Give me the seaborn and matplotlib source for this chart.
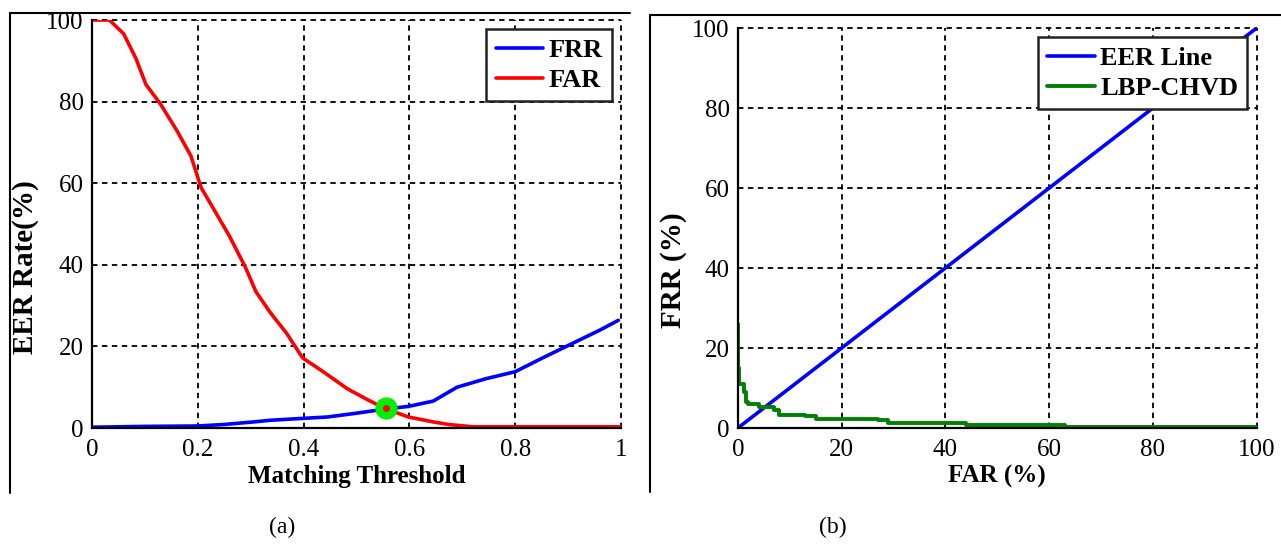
import numpy as np
import pandas as pd
import seaborn as sns
import matplotlib.pyplot as plt
from matplotlib.lines import Line2D

# (a) FAR / FRR vs matching threshold
far_thr = [0.0, 0.033, 0.06, 0.083, 0.102, 0.129, 0.16, 0.187, 0.206, 0.229, 0.26, 0.29,
           0.31, 0.337, 0.368, 0.398, 0.437, 0.483, 0.52, 0.552, 0.598, 0.645, 0.675, 0.72, 1.0]
far_val = [100, 100, 96.6, 90.6, 84.2, 79.5, 73, 66.7, 59, 53.9, 47, 39.4,
           33.4, 28.3, 23.2, 17.2, 13.8, 9.6, 7, 4.9, 2.7, 1.5, 0.85, 0.3, 0.3]
frr_thr = [0.0, 0.1, 0.2, 0.248, 0.306, 0.337, 0.39, 0.445, 0.498, 0.552, 0.598, 0.645,
           0.69, 0.745, 0.8, 0.852, 0.906, 0.96, 0.995]
frr_val = [0.2, 0.4, 0.5, 0.85, 1.5, 1.9, 2.3, 2.7, 3.6, 4.6, 5.3, 6.6,
           10, 12.1, 13.8, 17.2, 20.6, 24, 26.4]
eer_point = (0.555, 4.8)

# (b) DET-style plot
eer_x = [0, 100]
eer_y = [0, 100]
lbp_far = [0, 0, 0.3, 1.2, 1.5, 2, 4, 7, 8, 13, 15, 27, 29, 44, 63, 100]
lbp_frr = [26, 15, 11, 9, 6.5, 6, 5.3, 4.5, 3.3, 3, 2.3, 2.1, 1.2, 0.8, 0.2, 0.2]

sns.set_style("white")
plt.rcParams['font.family'] = ['Liberation Serif', 'DejaVu Serif']
plt.rcParams['text.color'] = 'black'
plt.rcParams['axes.labelcolor'] = 'black'
plt.rcParams['xtick.color'] = 'black'
plt.rcParams['ytick.color'] = 'black'

fig = plt.figure(figsize=(12.81, 5.44), dpi=100)
ax1 = fig.add_axes([0.0718, 0.2132, 0.413, 0.75])
ax2 = fig.add_axes([0.576, 0.2132, 0.405, 0.7353])

tick_fs = 18
lab_fs = 18
ylab_fs = 21
leg_fs = 19

sns.lineplot(x=frr_thr, y=frr_val, ax=ax1, color='#0000ff', lw=2.6, label='FRR',
             estimator=None, sort=False)
sns.lineplot(x=far_thr, y=far_val, ax=ax1, color='#ff0000', lw=2.6, label='FAR',
             estimator=None, sort=False)
ax1.plot(*eer_point, 'o', color='#00ee00', ms=15, zorder=5)
ax1.plot(*eer_point, 'o', color='#ff0000', ms=4, zorder=6)
ax1.set_xlim(0, 1)
ax1.set_ylim(0, 100)
ax1.set_xticks([0, 0.2, 0.4, 0.6, 0.8, 1])
ax1.set_xticklabels(['0', '0.2', '0.4', '0.6', '0.8', '1'])
ax1.set_yticks([0, 20, 40, 60, 80, 100])
ax1.set_xlabel('Matching Threshold', fontsize=lab_fs, fontweight='bold', labelpad=3)
ax1.set_ylabel('EER Rate(%)', fontsize=ylab_fs, fontweight='bold')
ax1.yaxis.set_label_coords(-0.100, 0.395)

sns.lineplot(x=eer_x, y=eer_y, ax=ax2, color='#0000ff', lw=2.6, label='EER Line',
             estimator=None, sort=False)
sns.lineplot(x=lbp_far, y=lbp_frr, ax=ax2, color='#008000', lw=2.8, label='LBP-CHVD',
             estimator=None, sort=False, drawstyle='steps-post')
ax2.set_xlim(0, 100)
ax2.set_ylim(0, 100)
ax2.set_xticks([0, 20, 40, 60, 80, 100])
ax2.set_yticks([0, 20, 40, 60, 80, 100])
ax2.set_xlabel('FAR (%)', fontsize=lab_fs, fontweight='bold', labelpad=3)
ax2.set_ylabel('FRR (%)', fontsize=ylab_fs, fontweight='bold')
ax2.yaxis.set_label_coords(-0.098, 0.395)

for ax in (ax1, ax2):
    ax.grid(True, color='black', linestyle=(0, (3, 2.5)), lw=1.3)
    ax.set_axisbelow(True)
    for gl in ax.get_xgridlines() + ax.get_ygridlines():
        gl.set_clip_on(False)
    for s in ('top', 'right'):
        ax.spines[s].set_visible(False)
    for s in ('left', 'bottom'):
        ax.spines[s].set_color('black')
        ax.spines[s].set_linewidth(1.6)
    ax.tick_params(axis='x', labelsize=tick_fs, pad=8, length=0)
    ax.tick_params(axis='y', labelsize=tick_fs, pad=6, length=0)
    leg = ax.legend(loc='upper right', frameon=True, fancybox=False, framealpha=1,
                    handlelength=1.8, handletextpad=0.2, borderpad=0.35, labelspacing=0.25,
                    borderaxespad=0.35, prop={'size': leg_fs, 'weight': 'bold'})
    leg.get_frame().set_edgecolor('#222222')
    leg.get_frame().set_linewidth(1.8)
    leg.set_zorder(10)

# panel frame lines from the source figure
fig.add_artist(Line2D([10 / 1281, 630 / 1281], [1 - 13 / 544, 1 - 13 / 544], color='black', lw=1.5))
fig.add_artist(Line2D([10 / 1281, 10 / 1281], [1 - 13 / 544, 1 - 493 / 544], color='black', lw=1.5))
fig.add_artist(Line2D([650 / 1281, 1], [1 - 15 / 544, 1 - 15 / 544], color='black', lw=1.5))
fig.add_artist(Line2D([650 / 1281, 650 / 1281], [1 - 15 / 544, 1 - 492 / 544], color='black', lw=1.5))

fig.text(282 / 1281, 1 - 527 / 544, '(a)', ha='center', va='center', fontsize=17)
fig.text(833 / 1281, 1 - 527 / 544, '(b)', ha='center', va='center', fontsize=17)

fig.savefig('out.png', dpi=100)
